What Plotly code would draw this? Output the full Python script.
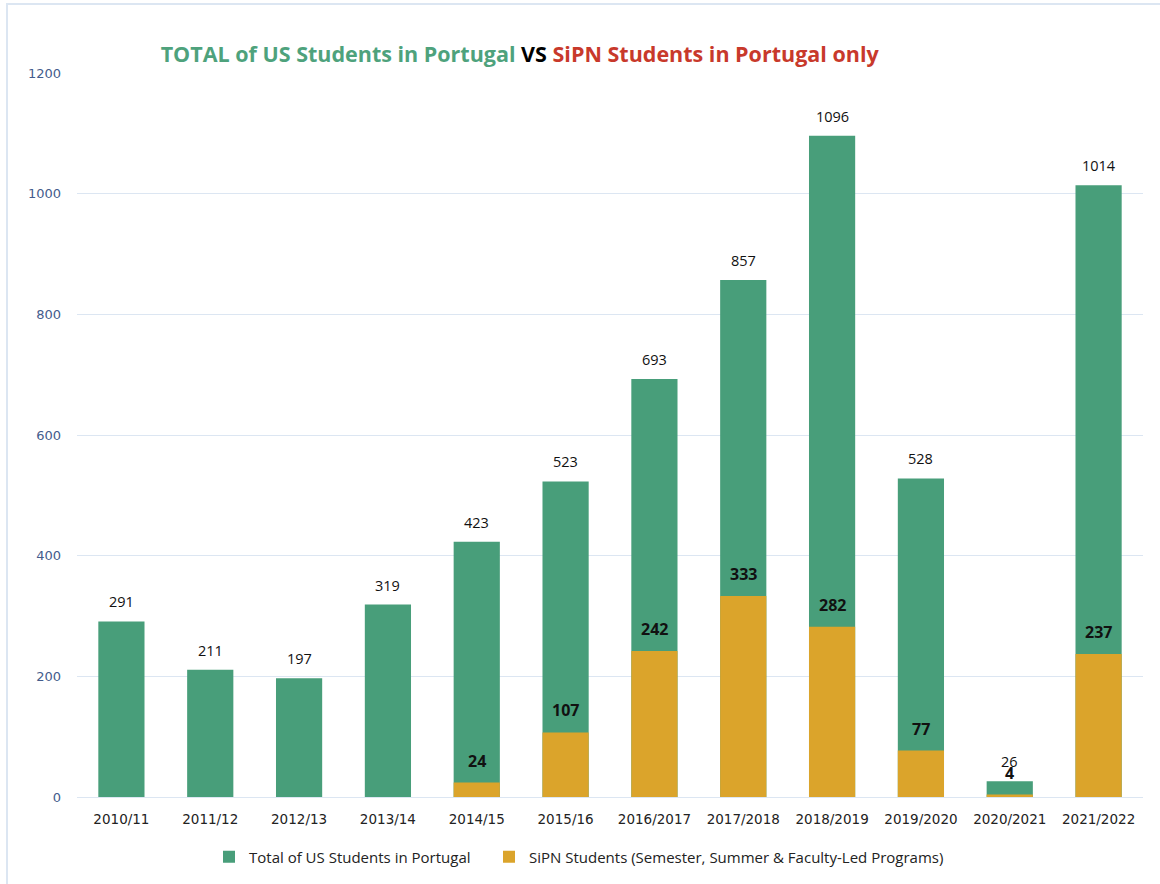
import plotly.graph_objects as go

years = ["2010/11", "2011/12", "2012/13", "2013/14", "2014/15", "2015/16",
         "2016/2017", "2017/2018", "2018/2019", "2019/2020", "2020/2021", "2021/2022"]
total_us = [291, 211, 197, 319, 423, 523, 693, 857, 1096, 528, 26, 1014]
sipn = [None, None, None, None, 24, 107, 242, 333, 282, 77, 4, 237]
y_ticks = [0, 200, 400, 600, 800, 1000, 1200]

GREEN = "#489E7A"
GOLD = "#DBA42B"
FONT = "Open Sans, Liberation Sans, Arial, sans-serif"
TICKFONT = "DejaVu Sans"

fig = go.Figure()
fig.add_trace(go.Bar(
    x=years, y=total_us, name="Total of US Students in Portugal",
    marker=dict(color=GREEN, line=dict(width=0)),
    width=0.52, legend="legend",
))
fig.add_trace(go.Bar(
    x=years, y=sipn, name="SiPN Students (Semester, Summer & Faculty-Led Programs)",
    marker=dict(color=GOLD, line=dict(width=0)),
    width=0.52, legend="legend2",
))

annotations = []
for yr, v in zip(years, total_us):
    annotations.append(dict(x=yr, y=v, xref="x", yref="y", text=str(v), showarrow=False,
                            yanchor="bottom", yshift=8,
                            font=dict(size=14.5, color="#111111", family=FONT)))
for yr, v in zip(years, sipn):
    if v is None:
        continue
    annotations.append(dict(x=yr, y=v, xref="x", yref="y", text="<b>%d</b>" % v, showarrow=False,
                            yanchor="bottom", yshift=9,
                            font=dict(size=16, color="#111111", family=FONT)))

title_html = ("<b><span style='color:#4EA27C'>TOTAL of US Students in Portugal</span> "
              "<span style='color:#000000'>VS</span> "
              "<span style='color:#C8392B'>SiPN Students in Portugal only</span></b>")

fig.update_layout(
    width=1160, height=884,
    barmode="overlay",
    paper_bgcolor="white", plot_bgcolor="white",
    margin=dict(l=77, r=17, t=73, b=86),
    title=dict(text=title_html, x=0.448, xanchor="center", y=0.938, yanchor="middle",
               font=dict(size=21.5, family=FONT)),
    showlegend=True,
    legend=dict(orientation="h", x=(209 - 77) / 1066, xanchor="left", y=-59 / 725, yanchor="middle",
                font=dict(size=15, family=FONT, color="#222222"), itemwidth=30,
                bgcolor="rgba(0,0,0,0)"),
    legend2=dict(orientation="h", x=(489 - 77) / 1066, xanchor="left", y=-59 / 725, yanchor="middle",
                 font=dict(size=15, family=FONT, color="#222222"), itemwidth=30,
                 bgcolor="rgba(0,0,0,0)"),
    font=dict(family=FONT),
    annotations=annotations,
    shapes=[dict(type="rect", xref="paper", yref="paper",
                 x0=-70 / 1066, x1=1.3, y0=-0.5, y1=1 + 69 / 725,
                 line=dict(color="#DCE6F2", width=2), fillcolor="rgba(0,0,0,0)", layer="below")],
)
fig.update_xaxes(
    type="category", showgrid=False, showline=False, ticks="",
    tickfont=dict(size=13.5, color="#222222", family=TICKFONT),
    ticklabelstandoff=12,
)
fig.update_yaxes(
    range=[0, 1200], tickvals=y_ticks, showgrid=True, gridcolor="#DCE6F2", gridwidth=1,
    zeroline=True, zerolinecolor="#DCE6F2", zerolinewidth=1, showline=False, ticks="",
    tickfont=dict(size=13, color="#445C8C", family=TICKFONT),
    ticklabelstandoff=15,
)

fig.write_html("out.html", config={"displayModeBar": False},
               post_script="document.body.style.margin='0';")
